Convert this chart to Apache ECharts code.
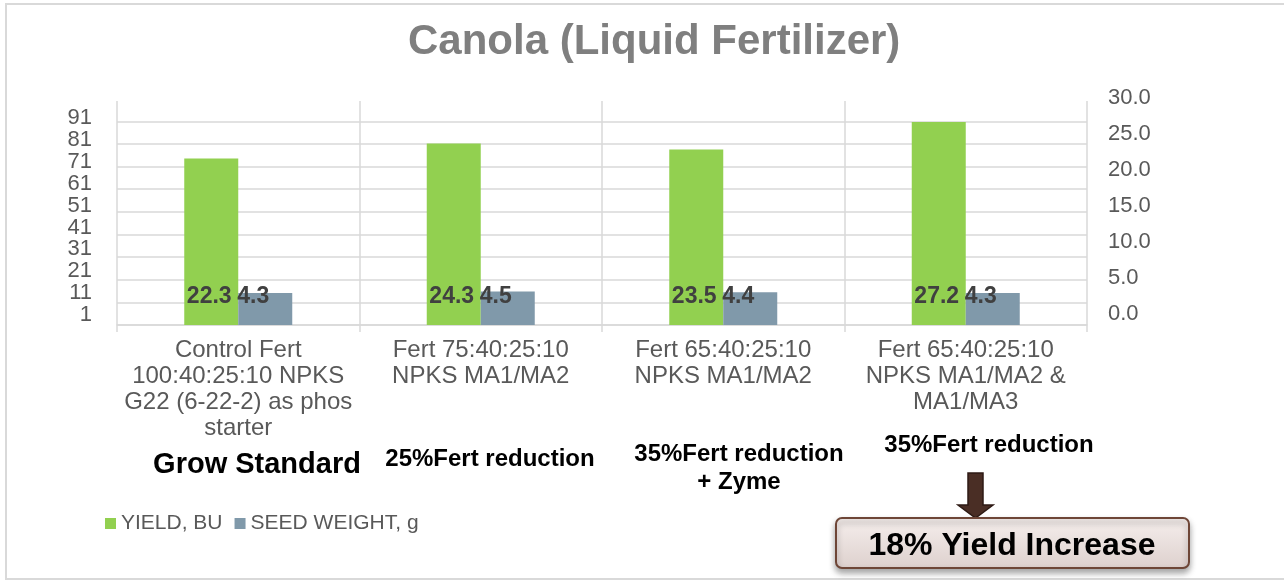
<!DOCTYPE html>
<html>
<head>
<meta charset="utf-8">
<title>Canola (Liquid Fertilizer)</title>
<script src="https://cdn.jsdelivr.net/npm/echarts@6/dist/echarts.min.js"></script>
<style>
  html, body { margin: 0; padding: 0; background: #fff; }
  #chart { width: 1284px; height: 582px; }
</style>
</head>
<body>
<div id="chart"></div>
<script>
// chart data
const categories = [
  "Control Fert\n100:40:25:10 NPKS\nG22 (6-22-2) as phos\nstarter",
  "Fert 75:40:25:10\nNPKS MA1/MA2",
  "Fert 65:40:25:10\nNPKS MA1/MA2",
  "Fert 65:40:25:10\nNPKS MA1/MA2 &\nMA1/MA3"
];
const yieldBu = [22.3, 24.3, 23.5, 27.2];
const seedWeight = [4.3, 4.5, 4.4, 4.3];
const seriesNames = ["YIELD, BU", "SEED WEIGHT, g"];
const notes = ["Grow Standard", "25%Fert reduction", "35%Fert reduction\n+ Zyme", "35%Fert reduction"];
const calloutText = "18% Yield Increase";

const fontFamily = "Liberation Sans, Arial, sans-serif";
const gridLine = "#d9d9d9";
const textGray = "#595959";

const chart = echarts.init(document.getElementById("chart"), null, { renderer: "canvas" });

const barLabel = {
  show: true,
  position: "insideBottom",
  distance: 17,
  fontFamily: fontFamily,
  fontSize: 23,
  fontWeight: "bold",
  color: "#404040",
  formatter: p => p.value.toFixed(1)
};

const noteStyle = {
  fontSize: 24,
  fontWeight: "bold",
  fill: "#000",
  fontFamily: fontFamily,
  align: "center",
  verticalAlign: "middle"
};

const option = {
  animation: false,
  backgroundColor: "#fff",
  textStyle: { fontFamily: fontFamily },
  title: {
    text: "Canola (Liquid Fertilizer)",
    left: 403,
    top: 16,
    textStyle: { fontSize: 42, fontWeight: "bold", color: "#7f7f7f", fontFamily: fontFamily }
  },
  legend: {
    left: 100,
    top: 508,
    icon: "rect",
    itemWidth: 11,
    itemHeight: 11,
    itemGap: 12,
    data: seriesNames,
    textStyle: { fontSize: 21, color: textGray, fontFamily: fontFamily }
  },
  grid: [
    // bars + gridlines
    { left: 117, right: 197, top: 101, bottom: 257 },
    // left axis labels
    { left: 117, right: 197, top: 118, bottom: 267 },
    // right axis labels
    { left: 117, right: 197, top: 98, bottom: 268 }
  ],
  xAxis: [
    {
      type: "category",
      gridIndex: 0,
      data: categories,
      axisLine: { lineStyle: { color: gridLine, width: 1.5 } },
      axisTick: { show: true, length: 7, lineStyle: { color: gridLine, width: 1.5 } },
      splitLine: { show: true, lineStyle: { color: gridLine, width: 1.5 } },
      axisLabel: {
        interval: 0,
        margin: 12,
        fontSize: 24,
        lineHeight: 26,
        color: textGray,
        fontFamily: fontFamily
      }
    },
    { type: "value", gridIndex: 1, show: false },
    { type: "value", gridIndex: 2, show: false }
  ],
  yAxis: [
    {
      // horizontal gridlines (1, 11, ... 91)
      type: "value",
      gridIndex: 0,
      min: 0,
      max: 99,
      interval: 10,
      axisLabel: { show: false },
      axisLine: { show: false },
      axisTick: { show: false },
      splitLine: { show: true, showMaxLine: false, lineStyle: { color: gridLine, width: 1.5 } }
    },
    {
      // value axis used by the bars
      type: "value",
      gridIndex: 0,
      position: "right",
      min: 0,
      max: 30,
      show: false,
      splitLine: { show: false }
    },
    {
      type: "value",
      gridIndex: 1,
      position: "left",
      min: 0,
      max: 90,
      interval: 10,
      axisLine: { show: false },
      axisTick: { show: false },
      splitLine: { show: false },
      axisLabel: {
        margin: 25,
        fontSize: 22,
        color: textGray,
        fontFamily: fontFamily,
        formatter: v => String(v + 1)
      }
    },
    {
      type: "value",
      gridIndex: 2,
      position: "right",
      min: 0,
      max: 30,
      interval: 5,
      axisLine: { show: false },
      axisTick: { show: false },
      splitLine: { show: false },
      axisLabel: {
        margin: 21,
        fontSize: 22,
        color: textGray,
        fontFamily: fontFamily,
        formatter: v => v.toFixed(1)
      }
    }
  ],
  series: [
    {
      name: seriesNames[0],
      type: "bar",
      xAxisIndex: 0,
      yAxisIndex: 1,
      data: yieldBu,
      barWidth: 54,
      barGap: "0%",
      itemStyle: { color: "#92d050" },
      label: Object.assign({}, barLabel, { offset: [-2, 0] })
    },
    {
      name: seriesNames[1],
      type: "bar",
      xAxisIndex: 0,
      yAxisIndex: 1,
      data: seedWeight,
      barWidth: 54,
      barGap: "0%",
      itemStyle: { color: "#8099aa" },
      label: Object.assign({}, barLabel, { align: "left", offset: [-28, 0] })
    }
  ],
  graphic: [
    // outer frame
    {
      type: "rect",
      silent: true,
      shape: { x: 6, y: 4, width: 1300, height: 575 },
      style: { fill: "none", stroke: "#d9d9d9", lineWidth: 2 }
    },
    {
      type: "text",
      x: 257, y: 465,
      style: Object.assign({}, noteStyle, { text: notes[0], fontSize: 29 })
    },
    {
      type: "text",
      x: 490, y: 459,
      style: Object.assign({}, noteStyle, { text: notes[1] })
    },
    {
      type: "text",
      x: 739, y: 468,
      style: Object.assign({}, noteStyle, { text: notes[2], lineHeight: 28 })
    },
    {
      type: "text",
      x: 989, y: 445,
      style: Object.assign({}, noteStyle, { text: notes[3] })
    },
    // down arrow
    {
      type: "polygon",
      shape: {
        points: [[968, 473], [983, 473], [983, 505], [993, 505], [975.5, 518], [958, 505], [968, 505]]
      },
      style: { fill: "#4a2e25", stroke: "#2e1a14", lineWidth: 1.5 }
    },
    // callout box
    {
      type: "rect",
      shape: { x: 836, y: 518, width: 353, height: 50, r: 6 },
      style: {
        fill: new echarts.graphic.LinearGradient(0, 0, 0, 1, [
          { offset: 0, color: "#f6efed" },
          { offset: 1, color: "#ddd0cd" }
        ]),
        stroke: "#6e4637",
        lineWidth: 2,
        shadowColor: "rgba(0,0,0,0.35)",
        shadowBlur: 6,
        shadowOffsetY: 4
      }
    },
    {
      type: "text",
      x: 1012, y: 546,
      style: Object.assign({}, noteStyle, { text: calloutText, fontSize: 32 })
    }
  ]
};

chart.setOption(option);
</script>
</body>
</html>
